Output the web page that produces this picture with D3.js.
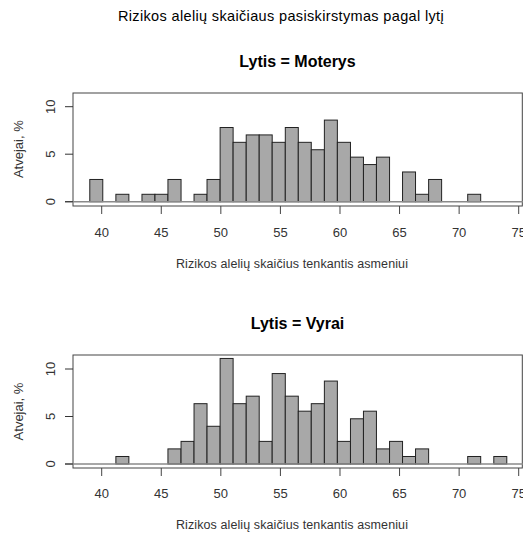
<!DOCTYPE html>
<html>
<head>
<meta charset="utf-8">
<script src="https://cdn.jsdelivr.net/npm/d3@7"></script>
<style>
  html, body { margin: 0; padding: 0; background: #fff; }
  svg { display: block; font-family: "Liberation Sans", Arial, sans-serif; }
</style>
</head>
<body>
<svg id="chart" width="523" height="533"></svg>
<script>
// ---- data ----
const mainTitle = "Rizikos alelių skaičiaus pasiskirstymas pagal lytį";
const panelTitles = ["Lytis = Moterys", "Lytis = Vyrai"];
const xLabel = "Rizikos alelių skaičius tenkantis asmeniui";
const yLabel = "Atvejai, %";
const breaks = [39, 40.09, 41.19, 42.28, 43.38, 44.47, 45.56, 46.66, 47.75, 48.84,
  49.94, 51.03, 52.13, 53.22, 54.31, 55.41, 56.5, 57.59, 58.69, 59.78, 60.88,
  61.97, 63.06, 64.16, 65.25, 66.34, 67.44, 68.53, 69.63, 70.72, 71.81, 72.91, 74.0];
const moterys = [2.34, 0, 0.78, 0, 0.78, 0.78, 2.34, 0, 0.78, 2.34, 7.81, 6.25, 7.03, 7.03,
  6.25, 7.81, 6.25, 5.47, 8.59, 6.25, 4.69, 3.91, 4.69, 0, 3.13, 0.78, 2.34, 0, 0, 0.78, 0, 0];
const vyrai = [0, 0, 0.79, 0, 0, 0, 1.59, 2.38, 6.35, 3.97, 11.11, 6.35, 7.14, 2.38, 9.52,
  7.14, 5.56, 6.35, 8.73, 2.38, 4.76, 5.56, 1.59, 2.38, 0.79, 1.59, 0, 0, 0, 0.79, 0, 0.79];
const xTicks = [40, 45, 50, 55, 60, 65, 70, 75];
const yTicks = [0, 5, 10];

// ---- layout ----
const svg = d3.select("#chart");
const x = d3.scaleLinear().domain([40, 75]).range([101.7, 518.7]);
const boxLeft = 73, boxRight = 522.3;

svg.append("text").attr("x", 281).attr("y", 21).attr("text-anchor", "middle")
  .attr("font-size", 14.5).attr("letter-spacing", 0.35).attr("fill", "#000").text(mainTitle);

const panels = [
  { vals: moterys, title: panelTitles[0], top: 93, bottom: 206, y0: 201.7, y10: 106.7, titleY: 66.5, tickY: 236.5, labY: 267.5 },
  { vals: vyrai, title: panelTitles[1], top: 355, bottom: 468, y0: 464, y10: 369, titleY: 328.5, tickY: 497.5, labY: 529 }
];

panels.forEach(p => {
  const y = d3.scaleLinear().domain([0, 10]).range([p.y0, p.y10]);
  const g = svg.append("g");

  g.append("text").attr("x", 297.5).attr("y", p.titleY).attr("text-anchor", "middle")
    .attr("font-size", 16).attr("font-weight", "bold").attr("fill", "#000").text(p.title);

  // box
  g.append("rect").attr("x", boxLeft).attr("y", p.top)
    .attr("width", boxRight - boxLeft).attr("height", p.bottom - p.top)
    .attr("fill", "none").attr("stroke", "#444").attr("stroke-width", 1);

  // bars
  const bins = p.vals.map((v, i) => ({ x0: breaks[i], x1: breaks[i + 1], v }))
    .filter(d => d.v > 0);
  g.selectAll("rect.bar").data(bins).enter().append("rect").attr("class", "bar")
    .attr("x", d => x(d.x0)).attr("width", d => x(d.x1) - x(d.x0))
    .attr("y", d => y(d.v)).attr("height", d => y(0) - y(d.v))
    .attr("fill", "#a8a8a8").attr("stroke", "#222").attr("stroke-width", 1);

  // baseline
  g.append("line").attr("x1", 65).attr("x2", 523)
    .attr("y1", y(0)).attr("y2", y(0))
    .attr("stroke", "#8a8a8a").attr("stroke-width", 1.6);

  // y axis ticks
  yTicks.forEach(t => {
    g.append("line").attr("x1", 65).attr("x2", boxLeft)
      .attr("y1", y(t)).attr("y2", y(t)).attr("stroke", "#333").attr("stroke-width", 1);
    g.append("text").attr("transform", `translate(${55},${y(t)}) rotate(-90)`)
      .attr("text-anchor", "middle").attr("font-size", 13).attr("fill", "#333").text(t);
  });
  g.append("text").attr("transform", `translate(${22.5},${(p.y0 + p.y10) / 2 - 5}) rotate(-90)`)
    .attr("text-anchor", "middle").attr("font-size", 13).attr("fill", "#333").text(yLabel);

  // x axis ticks
  xTicks.forEach(t => {
    g.append("line").attr("x1", x(t)).attr("x2", x(t))
      .attr("y1", p.bottom).attr("y2", p.bottom + 8).attr("stroke", "#444").attr("stroke-width", 1);
    g.append("text").attr("x", x(t)).attr("y", p.tickY).attr("text-anchor", "middle")
      .attr("font-size", 13).attr("fill", "#333").text(t);
  });
  g.append("text").attr("x", 292).attr("y", p.labY).attr("text-anchor", "middle")
    .attr("font-size", 12.5).attr("letter-spacing", 0.1).attr("fill", "#333").text(xLabel);
});
</script>
</body>
</html>
